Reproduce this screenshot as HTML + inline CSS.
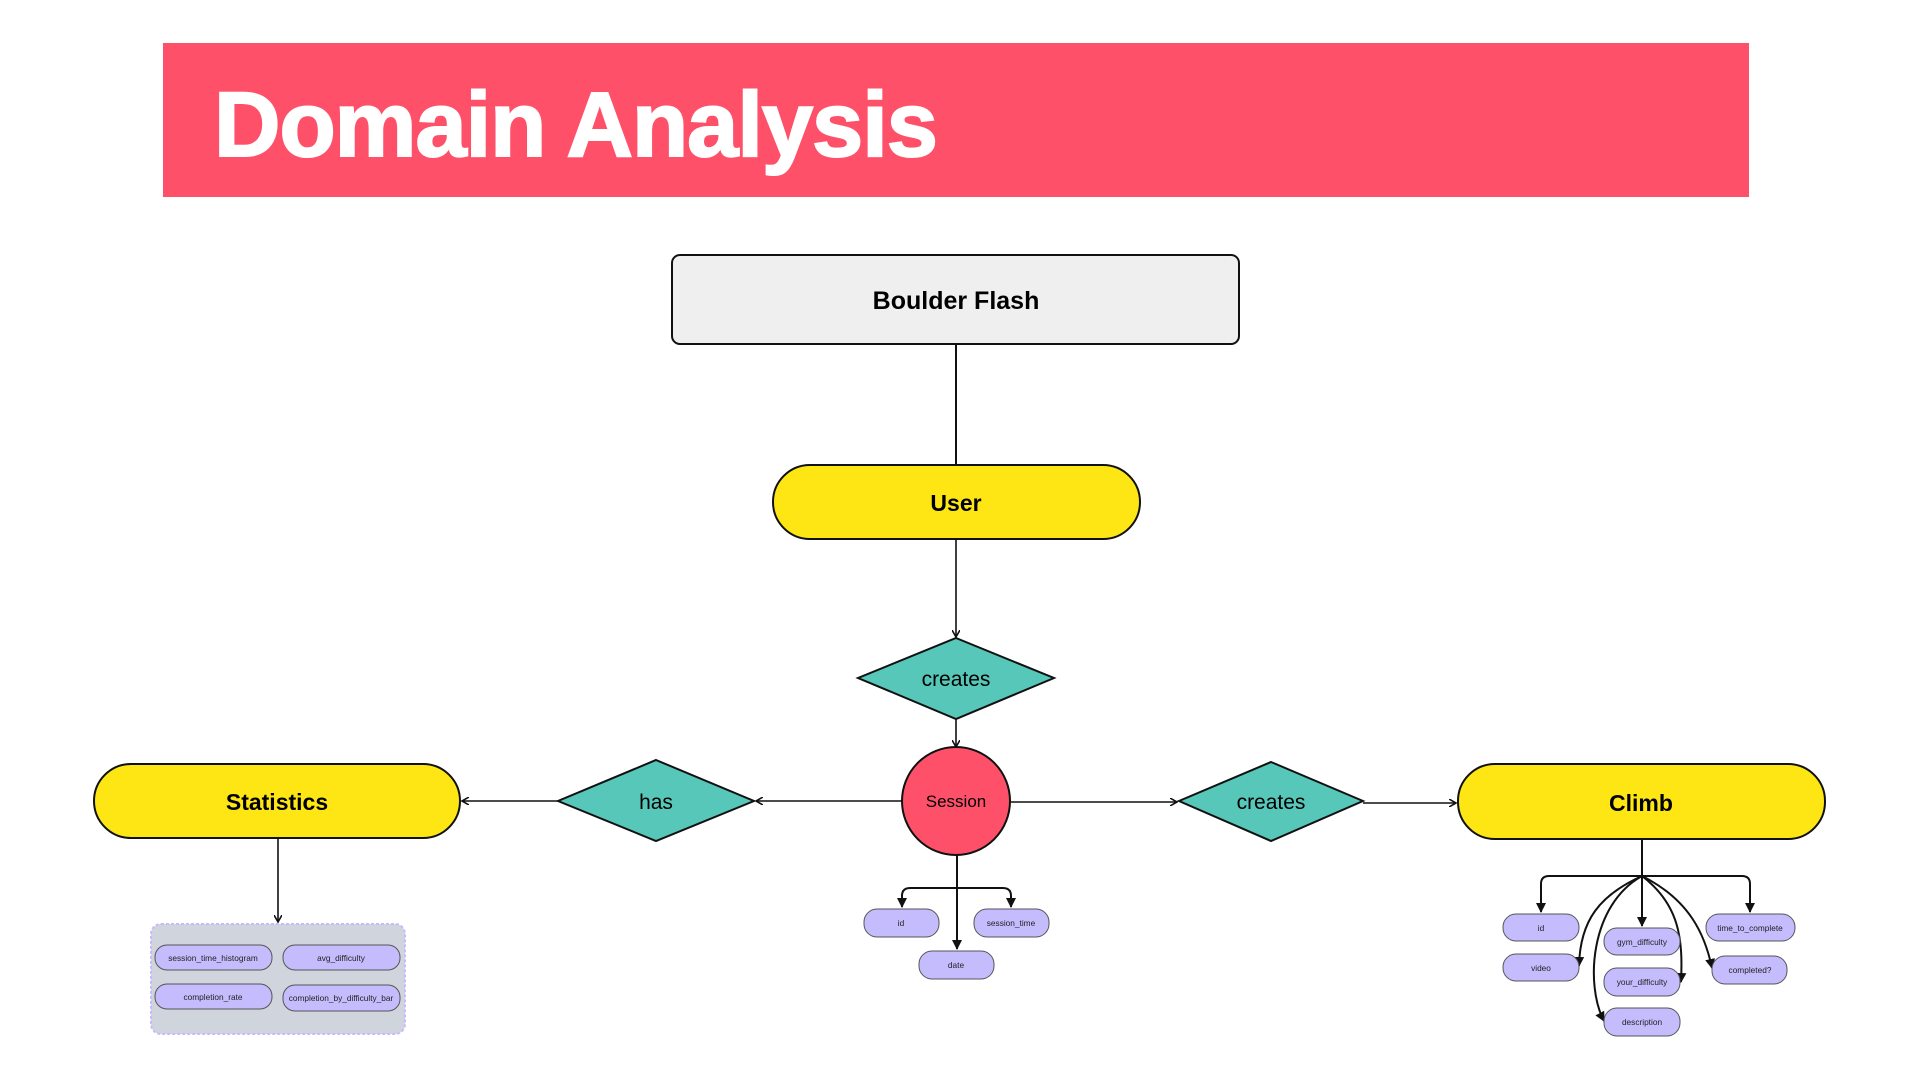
<!DOCTYPE html>
<html><head><meta charset="utf-8"><style>
html,body{margin:0;padding:0;background:#fff;width:1920px;height:1080px;overflow:hidden}
svg{display:block}
.b{font-family:"Liberation Sans",sans-serif;font-weight:bold}
.s{font-family:"Liberation Sans",sans-serif;font-size:8.3px;fill:#222}
.attr{fill:#c5bcfd;stroke:#555;stroke-width:1}
.ln{stroke:#111;stroke-width:2;fill:none}
</style></head><body>
<svg width="1920" height="1080" viewBox="0 0 1920 1080" xmlns="http://www.w3.org/2000/svg">
<defs>
<marker id="a" markerWidth="8" markerHeight="8" refX="6" refY="4" orient="auto" markerUnits="userSpaceOnUse"><path d="M0,0 L7,4 L0,8" fill="none" stroke="#111" stroke-width="1.6"/></marker>
<marker id="f" markerWidth="12" markerHeight="12" refX="9" refY="6" orient="auto" markerUnits="userSpaceOnUse"><path d="M0,1 L10,6 L0,11 Z" fill="#111"/></marker>
</defs>
<rect x="163" y="43" width="1586" height="154" fill="#fe5169"/>
<text x="214" y="156" class="b" font-size="92" fill="#fff" style="letter-spacing:-1px" stroke="#fff" stroke-width="2">Domain Analysis</text>

<rect x="672" y="255" width="567" height="89" rx="8" fill="#efefef" stroke="#111" stroke-width="2"/>
<text x="956" y="309" class="b" font-size="25" text-anchor="middle">Boulder Flash</text>
<line x1="956" y1="344" x2="956" y2="465" stroke="#111" stroke-width="2"/>

<rect x="773" y="465" width="367" height="74" rx="37" fill="#fde614" stroke="#111" stroke-width="2"/>
<text x="956" y="511" class="b" font-size="23" text-anchor="middle">User</text>
<line x1="956" y1="539" x2="956" y2="636" stroke="#111" stroke-width="1.6" marker-end="url(#a)"/>

<polygon points="956,638 1054,678 956,719 858,678" fill="#57c7b9" stroke="#111" stroke-width="2"/>
<text x="956" y="686" font-family="Liberation Sans,sans-serif" font-size="21" text-anchor="middle">creates</text>
<line x1="956" y1="719" x2="956" y2="746" stroke="#111" stroke-width="1.6" marker-end="url(#a)"/>

<circle cx="956" cy="801" r="54" fill="#fe5169" stroke="#111" stroke-width="2"/>
<text x="956" y="807" font-family="Liberation Sans,sans-serif" font-size="17" text-anchor="middle">Session</text>

<line x1="902" y1="801" x2="757" y2="801" stroke="#111" stroke-width="1.6" marker-end="url(#a)"/>
<polygon points="656,760 754,801 656,841 558,801" fill="#57c7b9" stroke="#111" stroke-width="2"/>
<text x="656" y="809" font-family="Liberation Sans,sans-serif" font-size="21" text-anchor="middle">has</text>
<line x1="558" y1="801" x2="463" y2="801" stroke="#111" stroke-width="1.6" marker-end="url(#a)"/>

<rect x="94" y="764" width="366" height="74" rx="37" fill="#fde614" stroke="#111" stroke-width="2"/>
<text x="277" y="810" class="b" font-size="23" text-anchor="middle">Statistics</text>
<line x1="278" y1="838" x2="278" y2="921" stroke="#111" stroke-width="1.6" marker-end="url(#a)"/>

<rect x="151" y="924" width="254" height="110" rx="10" fill="#d0d4dc" stroke="#c5bcfd" stroke-width="2" stroke-dasharray="3,2"/>
<rect class="attr" x="155" y="945" width="117" height="25" rx="12"/><text class="s" x="213" y="961" text-anchor="middle">session_time_histogram</text>
<rect class="attr" x="283" y="945" width="117" height="25" rx="12"/><text class="s" x="341" y="961" text-anchor="middle">avg_difficulty</text>
<rect class="attr" x="155" y="984" width="117" height="25" rx="12"/><text class="s" x="213" y="1000" text-anchor="middle">completion_rate</text>
<rect class="attr" x="283" y="985" width="117" height="26" rx="12"/><text class="s" x="341" y="1001" text-anchor="middle">completion_by_difficulty_bar</text>

<line x1="1010" y1="802" x2="1176" y2="802" stroke="#111" stroke-width="1.6" marker-end="url(#a)"/>
<polygon points="1271,762 1363,801 1271,841 1179,801" fill="#57c7b9" stroke="#111" stroke-width="2"/>
<text x="1271" y="809" font-family="Liberation Sans,sans-serif" font-size="21" text-anchor="middle">creates</text>
<line x1="1363" y1="803" x2="1455" y2="803" stroke="#111" stroke-width="1.6" marker-end="url(#a)"/>

<rect x="1458" y="764" width="367" height="75" rx="37" fill="#fde614" stroke="#111" stroke-width="2"/>
<text x="1641" y="811" class="b" font-size="23" text-anchor="middle">Climb</text>

<line x1="957" y1="855" x2="957" y2="949" class="ln" marker-end="url(#f)"/>
<path d="M957,888 H910 Q902,888 902,896 V907" class="ln" marker-end="url(#f)"/>
<path d="M957,888 H1003 Q1011,888 1011,896 V907" class="ln" marker-end="url(#f)"/>
<rect class="attr" x="864" y="909" width="75" height="28" rx="13"/><text class="s" x="901" y="926" text-anchor="middle">id</text>
<rect class="attr" x="974" y="909" width="75" height="28" rx="13"/><text class="s" x="1011" y="926" text-anchor="middle">session_time</text>
<rect class="attr" x="919" y="951" width="75" height="28" rx="13"/><text class="s" x="956" y="968" text-anchor="middle">date</text>

<line x1="1642" y1="839" x2="1642" y2="876" class="ln"/>
<line x1="1642" y1="876" x2="1642" y2="926" class="ln" marker-end="url(#f)"/>
<path d="M1642,876 H1549 Q1541,876 1541,884 V912" class="ln" marker-end="url(#f)"/>
<path d="M1642,876 H1742 Q1750,876 1750,884 V912" class="ln" marker-end="url(#f)"/>
<path d="M1642,876 C1600,895 1580,920 1579,966" class="ln" marker-end="url(#f)"/>
<path d="M1642,876 C1590,905 1585,985 1604,1021" class="ln" marker-end="url(#f)"/>
<path d="M1642,876 C1680,905 1683,940 1681,982" class="ln" marker-end="url(#f)"/>
<path d="M1642,876 C1690,900 1705,935 1712,968" class="ln" marker-end="url(#f)"/>
<rect class="attr" x="1503" y="914" width="76" height="27" rx="13"/><text class="s" x="1541" y="931" text-anchor="middle">id</text>
<rect class="attr" x="1503" y="954" width="76" height="27" rx="13"/><text class="s" x="1541" y="971" text-anchor="middle">video</text>
<rect class="attr" x="1604" y="928" width="76" height="27" rx="13"/><text class="s" x="1642" y="945" text-anchor="middle">gym_difficulty</text>
<rect class="attr" x="1604" y="968" width="76" height="28" rx="13"/><text class="s" x="1642" y="985" text-anchor="middle">your_difficulty</text>
<rect class="attr" x="1604" y="1008" width="76" height="28" rx="13"/><text class="s" x="1642" y="1025" text-anchor="middle">description</text>
<rect class="attr" x="1706" y="914" width="89" height="27" rx="13"/><text class="s" x="1750" y="931" text-anchor="middle">time_to_complete</text>
<rect class="attr" x="1712" y="956" width="75" height="28" rx="13"/><text class="s" x="1750" y="973" text-anchor="middle">completed?</text>
</svg>
</body></html>
